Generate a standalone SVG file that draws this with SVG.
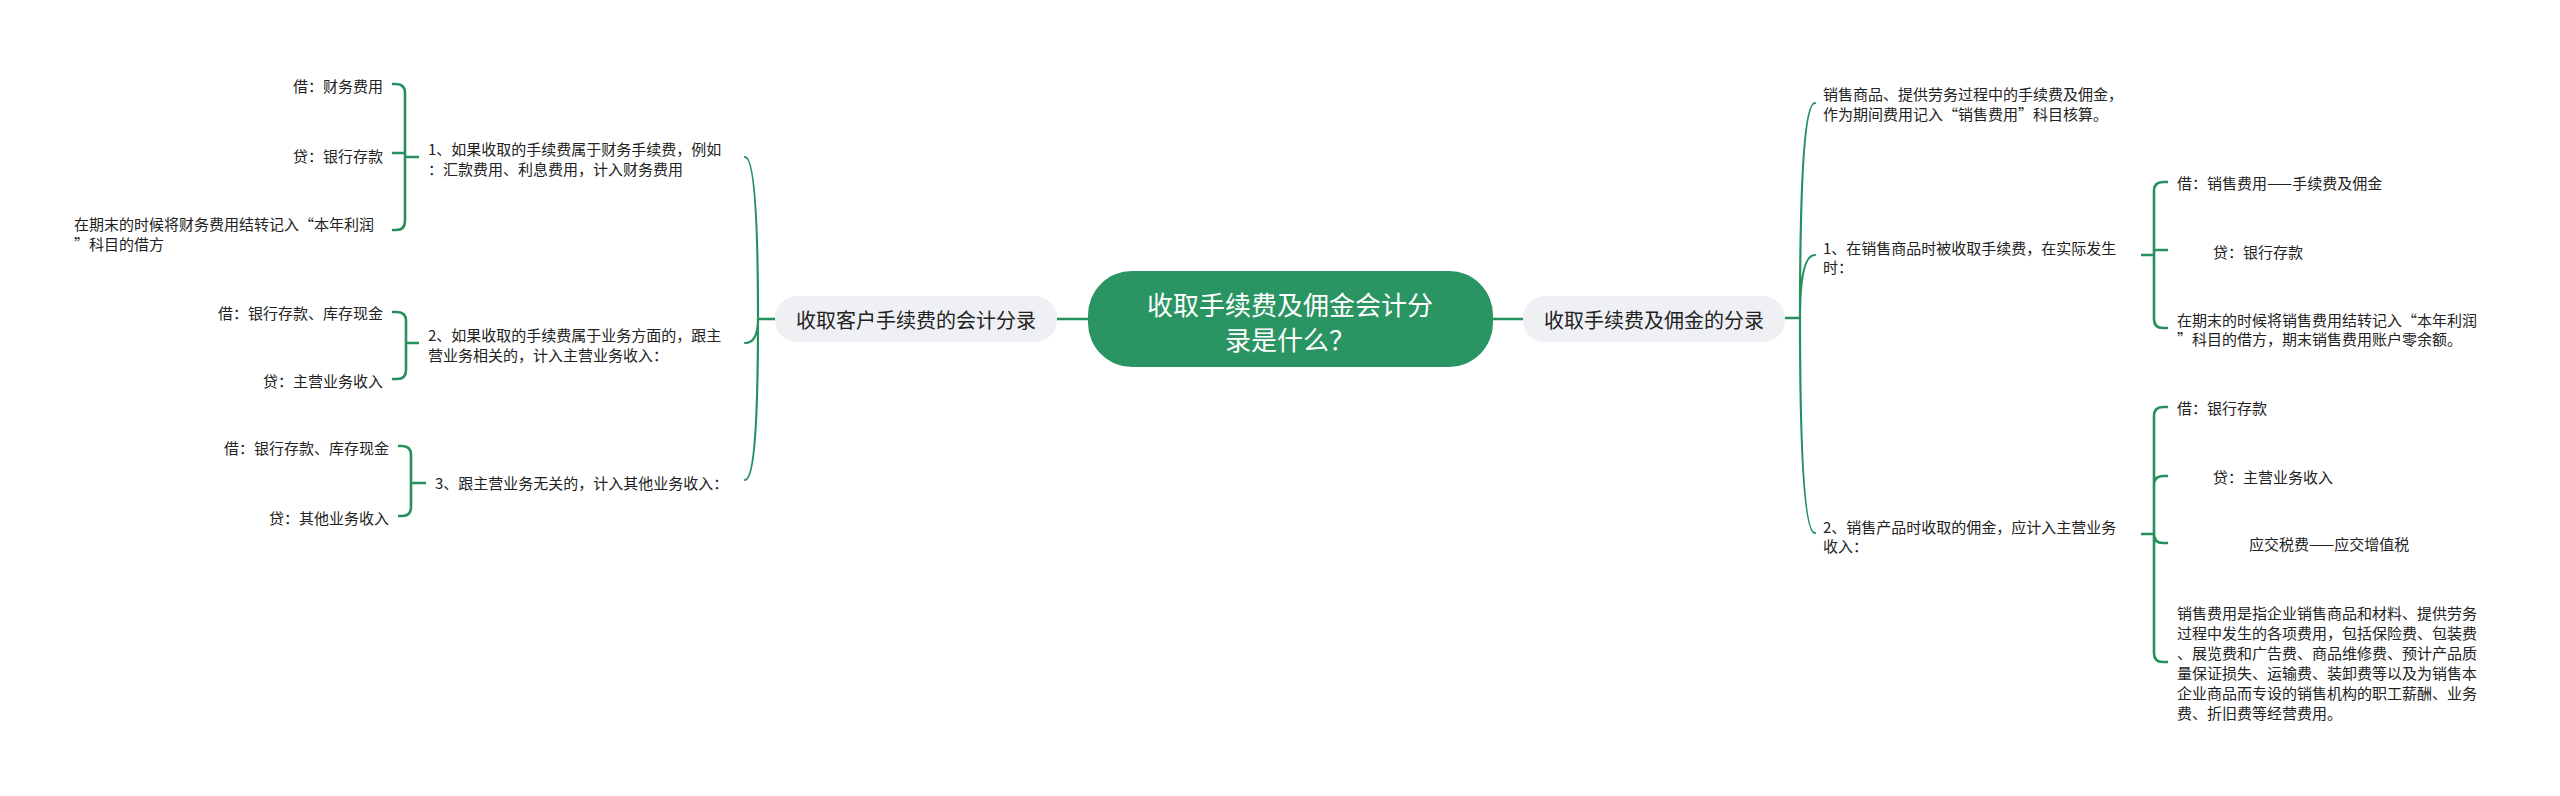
<svg xmlns="http://www.w3.org/2000/svg" width="2560" height="796" viewBox="0 0 2560 796">
<style>
.t{font-family:"Noto Sans CJK SC","Noto Sans",sans-serif;font-size:15px;fill:#222;dominant-baseline:central}
.e{text-anchor:end}
.m{text-anchor:middle}
.n2{font-family:"Noto Sans CJK SC","Noto Sans",sans-serif;font-size:20px;fill:#222;dominant-baseline:central;text-anchor:middle}
.root{font-family:"Noto Sans CJK SC","Noto Sans",sans-serif;font-size:26px;fill:#fff;dominant-baseline:central;text-anchor:middle}
.big{fill:none;stroke:#24905c;stroke-width:2.2;stroke-linecap:round}
.br{fill:none;stroke:#24905c;stroke-width:2.6;stroke-linecap:butt}
.sub{fill:#eef0f3}
</style>
<rect width="2560" height="796" fill="#fff"/>
<g id="connectors">
  <path class="br" d="M1057 319H1088M1493 319H1523"/>
  <path class="br" d="M775 319H758M1785 318H1800"/>
  <path class="big" d="M758 319Q758 157 745 157M758 319Q758 343 745 343M758 319Q758 480 745 480"/>
  <path class="big" d="M1800 318Q1800 103 1815 103M1800 318Q1800 255 1815 255M1800 318Q1800 533 1815 533"/>
  <path class="br" d="M419 157H405M405 157V93Q405 84 396 84H392M405 157V153H392M405 157V221Q405 230 396 230H392"/>
  <path class="br" d="M419 343H406M406 343V321Q406 312 397 312H392M406 343V370Q406 379 397 379H392"/>
  <path class="br" d="M426 483H411M411 483V455Q411 446 402 446H398M411 483V507Q411 516 402 516H398"/>
  <path class="br" d="M2141 255H2154M2154 255V191Q2154 182 2163 182H2168M2154 255V250H2168M2154 255V319Q2154 328 2163 328H2168"/>
  <path class="br" d="M2141 534H2154M2154 534V416Q2154 407 2163 407H2168M2154 534V485Q2154 476 2163 476H2168M2154 534V534Q2154 543 2163 543H2168M2154 534V653Q2154 662 2163 662H2168"/>
</g>
<g id="root">
  <rect x="1088" y="271" width="405" height="96" rx="44" fill="#2a9462"/>
  <text class="root" x="1290" y="303">收取手续费及佣金会计分</text>
  <text class="root" x="1290" y="338">录是什么？</text>
</g>
<g id="left-main">
  <rect class="sub" x="775" y="296" width="282" height="46" rx="22"/>
  <text class="n2" x="916" y="319">收取客户手续费的会计分录</text>
</g>
<g id="right-main">
  <rect class="sub" x="1523" y="296" width="262" height="46" rx="22"/>
  <text class="n2" x="1654" y="319">收取手续费及佣金的分录</text>
</g>
<g id="l1">
  <text class="t" x="428" y="148">1、如果收取的手续费属于财务手续费，例如</text>
  <text class="t" x="428" y="168">：汇款费用、利息费用，计入财务费用</text>
</g>
<g id="l1a"><text class="t e" x="383" y="85">借：财务费用</text></g>
<g id="l1b"><text class="t e" x="383" y="155">贷：银行存款</text></g>
<g id="l1c">
  <text class="t" x="74" y="223">在期末的时候将财务费用结转记入“本年利润</text>
  <text class="t" x="74" y="243">”科目的借方</text>
</g>
<g id="l2">
  <text class="t" x="428" y="334">2、如果收取的手续费属于业务方面的，跟主</text>
  <text class="t" x="428" y="354">营业务相关的，计入主营业务收入：</text>
</g>
<g id="l2a"><text class="t e" x="383" y="312">借：银行存款、库存现金</text></g>
<g id="l2b"><text class="t e" x="383" y="380">贷：主营业务收入</text></g>
<g id="l3">
  <text class="t" x="435" y="482">3、跟主营业务无关的，计入其他业务收入：</text>
</g>
<g id="l3a"><text class="t e" x="389" y="447">借：银行存款、库存现金</text></g>
<g id="l3b"><text class="t e" x="389" y="517">贷：其他业务收入</text></g>
<g id="r0">
  <text class="t" x="1823" y="93">销售商品、提供劳务过程中的手续费及佣金，</text>
  <text class="t" x="1823" y="113">作为期间费用记入“销售费用”科目核算。</text>
</g>
<g id="r1">
  <text class="t" x="1823" y="247">1、在销售商品时被收取手续费，在实际发生</text>
  <text class="t" x="1823" y="266">时：</text>
</g>
<g id="r1a"><text class="t" x="2177" y="182">借：销售费用——手续费及佣金</text></g>
<g id="r1b"><text class="t" x="2213" y="251">贷：银行存款</text></g>
<g id="r1c">
  <text class="t" x="2177" y="319">在期末的时候将销售费用结转记入“本年利润</text>
  <text class="t" x="2177" y="338">”科目的借方，期末销售费用账户零余额。</text>
</g>
<g id="r2">
  <text class="t" x="1823" y="526">2、销售产品时收取的佣金，应计入主营业务</text>
  <text class="t" x="1823" y="545">收入：</text>
</g>
<g id="r2a"><text class="t" x="2177" y="407">借：银行存款</text></g>
<g id="r2b"><text class="t" x="2213" y="476">贷：主营业务收入</text></g>
<g id="r2c"><text class="t" x="2249" y="543">应交税费——应交增值税</text></g>
<g id="r2d">
  <text class="t" x="2177" y="612">销售费用是指企业销售商品和材料、提供劳务</text>
  <text class="t" x="2177" y="632">过程中发生的各项费用，包括保险费、包装费</text>
  <text class="t" x="2177" y="652">、展览费和广告费、商品维修费、预计产品质</text>
  <text class="t" x="2177" y="672">量保证损失、运输费、装卸费等以及为销售本</text>
  <text class="t" x="2177" y="692">企业商品而专设的销售机构的职工薪酬、业务</text>
  <text class="t" x="2177" y="712">费、折旧费等经营费用。</text>
</g>
</svg>
